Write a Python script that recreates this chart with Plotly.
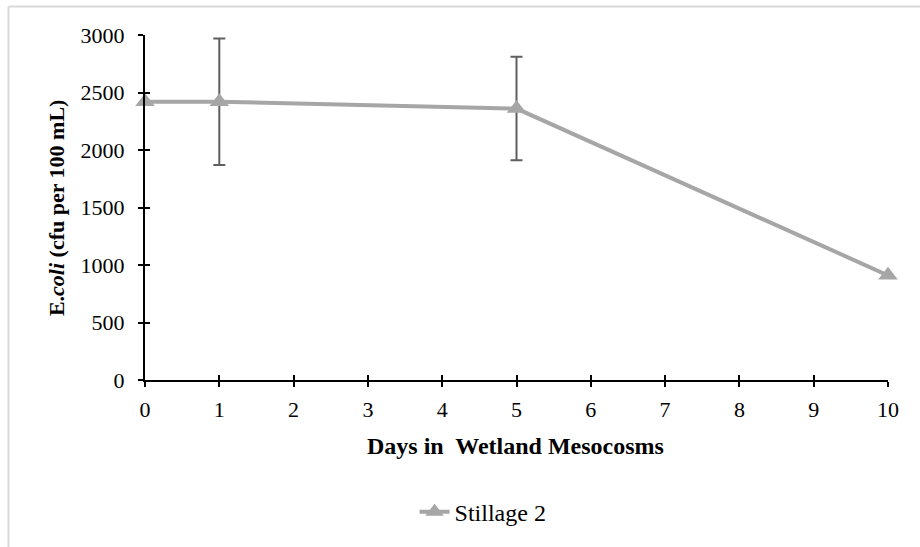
import plotly.graph_objects as go

# Sampling days and E. coli counts (cfu per 100 mL)
days = [0, 1, 5, 10]
ecoli = [2420, 2420, 2360, 910]

# Standard errors, only measured on days 1 and 5
err_days = [1, 5]
err_vals = [2420, 2360]
err_size = [550, 450]

x_ticks = list(range(0, 11))
y_ticks = [0, 500, 1000, 1500, 2000, 2500, 3000]

FONT = "Liberation Serif"
GREY = "#A6A6A6"

fig = go.Figure()

# error bars drawn first so the series sits on top
fig.add_trace(go.Scatter(
    x=err_days, y=err_vals, mode="markers",
    marker=dict(opacity=0, size=1),
    error_y=dict(type="data", array=err_size, visible=True,
                 color="#5f5f5f", thickness=2, width=6),
    showlegend=False, hoverinfo="skip", cliponaxis=False,
))

fig.add_trace(go.Scatter(
    x=days, y=ecoli, mode="lines+markers", name="Stillage 2",
    line=dict(color=GREY, width=4),
    marker=dict(symbol="triangle-up", size=17, color=GREY),
    cliponaxis=False,
))

# helper trace that anchors the inner-tick axes
fig.add_trace(go.Scatter(
    x=[0], y=[0], xaxis="x2", yaxis="y2", mode="markers",
    marker=dict(opacity=0), showlegend=False, hoverinfo="skip",
))

axis_font = dict(family=FONT, size=22, color="#000")

fig.update_layout(
    width=920, height=547,
    margin=dict(l=145, r=32, t=35, b=167),
    paper_bgcolor="white", plot_bgcolor="white",
    font=dict(family=FONT, size=22, color="#000"),
    xaxis=dict(
        range=[0, 10], tickvals=x_ticks, ticks="outside", ticklen=5,
        tickwidth=2, tickcolor="#000", showline=True, linecolor="#000",
        linewidth=2, showgrid=False, zeroline=False, tickfont=axis_font,
        ticklabelstandoff=4, fixedrange=True,
    ),
    yaxis=dict(
        range=[0, 3000], tickvals=y_ticks, ticks="outside", ticklen=5,
        tickwidth=2, tickcolor="#000", showline=True, linecolor="#000",
        linewidth=2, showgrid=False, zeroline=False, tickfont=axis_font,
        ticklabelstandoff=9, fixedrange=True,
    ),
    xaxis2=dict(
        range=[0, 10], tickvals=x_ticks, ticks="inside", ticklen=5,
        tickwidth=2, tickcolor="#000", showticklabels=False,
        showline=False, showgrid=False, zeroline=False,
        overlaying="x", anchor="y", side="bottom",
    ),
    yaxis2=dict(
        range=[0, 3000], tickvals=y_ticks, ticks="inside", ticklen=5,
        tickwidth=2, tickcolor="#000", showticklabels=False,
        showline=False, showgrid=False, zeroline=False,
        overlaying="y", anchor="x", side="left",
    ),
    legend=dict(
        orientation="h", x=0.455, xanchor="center", y=-0.383,
        yanchor="middle", font=dict(family=FONT, size=24),
        bgcolor="rgba(0,0,0,0)",
    ),
    annotations=[
        dict(text="<b>Days in  Wetland Mesocosms</b>", xref="paper",
             yref="paper", x=0.498, y=-0.191, xanchor="center",
             yanchor="middle", showarrow=False,
             font=dict(family=FONT, size=24)),
        dict(text="<b>E.<i>coli</i> (cfu per 100 mL)</b>", xref="paper",
             yref="paper", x=-0.119, y=0.5, xanchor="center",
             yanchor="middle", textangle=-90, showarrow=False,
             font=dict(family=FONT, size=22)),
    ],
    shapes=[
        # chart-area frame (top and left edges)
        dict(type="line", xref="paper", yref="paper", x0=-0.1837, x1=1.05,
             y0=1.0826, y1=1.0826, line=dict(color="#D9D9D9", width=2)),
        dict(type="line", xref="paper", yref="paper", x0=-0.1837, x1=-0.1837,
             y0=1.0826, y1=-0.5, line=dict(color="#D9D9D9", width=2)),
    ],
)

fig.write_html("out.html")
